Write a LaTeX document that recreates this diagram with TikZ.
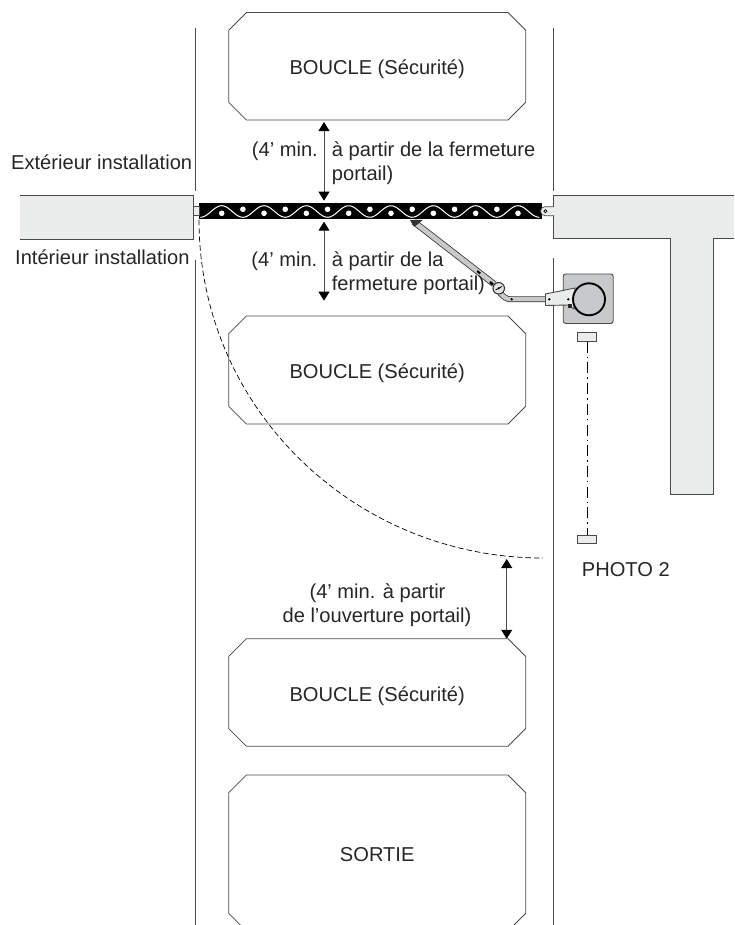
\documentclass[tikz,border=0pt]{standalone}
\usepackage{fontspec}
\setmainfont{Liberation Sans}
\usetikzlibrary{positioning}
\usetikzlibrary{calc}
\usetikzlibrary{shapes.misc}
\usetikzlibrary{arrows.meta}
\definecolor{post grey}{HTML}{EBEDEC}
\definecolor{plate grey}{HTML}{C8C9CB}
\definecolor{line grey}{HTML}{4A4A4A}
\tikzset{
    % Triangular arrow heads as on the drawing
    >={Triangle[length=9pt,width=11pt,color=black]},
%
    % All the lettering
    label text/.style={inner sep=0, text=black!85, font=\fontsize{20.1}{24}\selectfont},
%
    % Loops in the roadway
    loop box/.style={
        draw=line grey, line width=.8pt, chamfered rectangle,
        chamfered rectangle xsep=9pt, chamfered rectangle ysep=9pt,
        minimum width=297pt, minimum height=#1, outer sep=0,
        label text, text height=17.4pt, text depth=0pt},
%
    % Road edges and distance arrows
    road line/.style={draw=line grey, line width=.9pt},
    gap arrow/.style={<->, draw=line grey, line width=.9pt, shorten >=2pt, shorten <=2pt},
%
    % Masonry and small grey parts
    post fill/.style={fill=post grey},
    post line/.style={draw=line grey, line width=.9pt},
    photo cell/.style={
        draw=line grey, line width=.8pt, fill=post grey, inner sep=0,
        minimum width=19pt, minimum height=8pt},
%
    % Operator arm, a grey bar with dark edges
    arm bar/.style={draw=black!80, line width=.8pt, double=plate grey,
        double distance=#1, line cap=butt}}

\begin{document}
\begin{tikzpicture}[x=1pt, y=-1pt]

\useasboundingbox (0,0) rectangle (734,925);

% Loops

\node [loop box=107.5pt] (loopA) at (377.2,66.3) {BOUCLE (Sécurité)};
\node [loop box=108pt] (loopB) at (377.2,370) {BOUCLE (Sécurité)};
\node [loop box=107.5pt] (loopC) at (377.2,692.5) {BOUCLE (Sécurité)};
\node [loop box=156pt] (exitLoop) at (377.2,853) {SORTIE};

% Road edges

\draw [road line] (195.3,28) -- (195.3,191);
\draw [road line] (195.3,260) -- (195.3,925);
\draw [road line] (553,28) -- (553,191);
\draw [road line] (553,258) -- (553,925);

% Posts

\node [post fill, inner sep=0, anchor=north west, minimum width=174pt, minimum height=43.7pt]
    (postL) at (19.5,195) {};
\draw [post line] (postL.north west) -- (postL.north east)
    -- (postL.south east) -- (postL.south west);
\path [post fill] (553.7,195) -- (734,195) -- (734,238.7) -- (713.7,238.7)
    -- (713.7,494) -- (670.3,494) -- (670.3,238.7) -- (553.7,238.7) -- cycle;
\draw [post line] (734,195) -- (553.7,195) -- (553.7,238.7) -- (670.3,238.7)
    -- (670.3,494) -- (713.7,494) -- (713.7,238.7) -- (734,238.7);

% Gate leaf

\node [fill=black, inner sep=0, anchor=north west, minimum width=342.7pt, minimum height=16.6pt]
    (gate) at (199,202.7) {};
\draw [white, line width=1pt]
    plot [domain=200.4:539.3, samples=160] (\x,{211.5-5.8*cos((\x-221.7)*8.504)});
\foreach \k in {0,...,7}
    \fill [white] (221.7+42.33*\k,213.3) circle (2.8);
\foreach \k in {0,...,6}
    \fill [white] (242.9+42.33*\k,209.3) circle (2.8);

\draw [post line, line width=.7pt, fill=post grey] (193.5,206.7) rectangle (199,215.7);
\draw [post line, line width=.7pt, fill=post grey] (554,206.7) -- (545,206.7)
    arc [start angle=90, end angle=270, radius=4.5, y radius=-4.5] -- (554,215.7);
\draw [black, line width=.7pt] (545.4,211.2) circle (1.6);

% Distance arrows

\coordinate (gapA) at (324,0);
\coordinate (arcEnd) at (543,558);
\coordinate (gapC) at (506.7,558);
\draw [gap arrow] (loopA.south -| gapA) -- (gate.north -| gapA);
\draw [gap arrow] (gate.south -| gapA) -- (324,302.7);
\draw [gap arrow, shorten <=1pt, shorten >=0pt] (gapC) -- (loopC.north -| gapC);

% Swing of the leaf

\draw [black, line width=.7pt, dash pattern=on 5.5pt off 3pt] (gate.south west)
    .. controls (199,408) and (354,558) .. (arcEnd);

% Arm and operator

\draw [arm bar=4.8pt] (414,222) -- (494,284);
\fill [black!80] (410,220) -- (422.7,220) -- (418,224) -- (414,226.7) -- cycle;
\draw [black, line width=2pt] (477.2,271) -- (480.2,273.5);
\draw [black, line width=2.4pt] (490,282) -- (493,284.5);

\node [draw=line grey, line width=.9pt, fill=plate grey, rounded corners=2.5pt,
    minimum width=50pt, minimum height=49.5pt, inner sep=0] (plate) at (588.2,298.7) {};
\draw [arm bar=4.2pt] (500,293) .. controls (504,297) and (506,299.3) .. (511,299.3) -- (547,299.3);
\draw [line grey, line width=.9pt, fill=post grey] (545.5,294) -- (575,288) -- (574,309)
    -- (568,305) -- (545.5,305.5) -- cycle;
\node [draw=black, line width=1.9pt, fill=plate grey, circle, minimum size=32pt, inner sep=0]
    (drum) at (589,299.3) {};
\fill [black] (549.3,299.3) circle (1.3);
\fill [black] (568.3,299.3) circle (1.3);
\fill [black] (511.7,299.3) circle (1.3);
\fill [black!85] (568,304) rectangle (572,308);

\node [draw=black!85, line width=1pt, fill=plate grey!50, circle, minimum size=11.5pt, inner sep=0]
    (pivot) at (498.7,288.3) {};
\draw [black, line width=.8pt] (495.5,290) -- (502,286.5);
\fill [black] (498.7,288.3) circle (1.2);

% Photocells

\node [photo cell, minimum height=8.6pt] (cellA) at (587.3,337) {};
\node [photo cell] (cellB) at (587.3,539.7) {};
\draw [black, line width=.8pt, dash pattern=on 11pt off 4pt on 1.5pt off 4.2pt] (cellA) -- (cellB);

% Lettering

\node [label text, anchor=base west] (outText) at (11,170) {Extérieur installation};
\node [label text, anchor=base west] (inText) at (15,264) {Intérieur installation};

\node [label text, anchor=base east] (minA) at (318,156.7) {(4’ min.};
\node [label text, anchor=base west] (fromA) at (331.7,156.7) {à partir de la fermeture};
\node [label text, anchor=base west] (fromAb) at (331.7,180.7) {portail)};

\node [label text, anchor=base east] (minB) at (317.5,266.7) {(4’ min.};
\node [label text, anchor=base west] (fromB) at (331.7,266.7) {à partir de la};
\node [label text, anchor=base west] (fromBb) at (331.7,290) {fermeture portail)};

\node [label text, anchor=base] (fromC) at (377.5,598) {(4’ min. à partir};
\node [label text, anchor=base] (fromCb) at (377,622) {de l’ouverture portail)};

\node [label text, anchor=base west] (photoText) at (581.7,576) {PHOTO 2};

\end{tikzpicture}
\end{document}
